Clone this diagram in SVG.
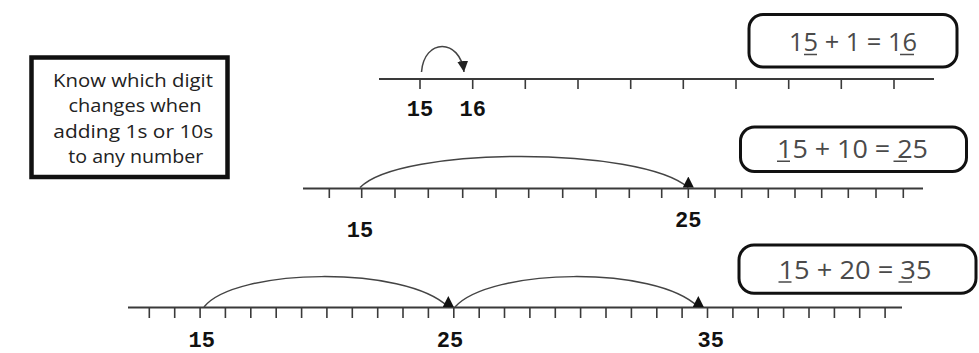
<svg xmlns="http://www.w3.org/2000/svg" width="979" height="353" viewBox="0 0 979 353">
<style>
.axis{stroke:#3a3a3a;stroke-width:2;fill:none}
.tick{stroke:#3a3a3a;stroke-width:1.6;fill:none}
.arc{stroke:#444;stroke-width:1.5;fill:none}
.num{font-family:"Liberation Mono","Courier New",monospace;font-weight:bold;font-size:22px;fill:#111;text-anchor:middle}
.note{font-family:"Open Sans","DejaVu Sans",sans-serif;font-size:18px;fill:#222;text-anchor:middle}
.eqbox{fill:#fff;stroke:#111;stroke-width:3}
.eq{font-family:"Open Sans","Liberation Sans",sans-serif;font-size:26px;fill:#4a4a4a;text-anchor:middle}
.ul{stroke:#4a4a4a;stroke-width:1.6;fill:none}
</style>
<defs>
<marker id="arrowDown" markerUnits="userSpaceOnUse" markerWidth="11" markerHeight="11" refX="10" refY="5" orient="auto" viewBox="0 0 10 10">
<path d="M0,0 L10,5 L0,10 z" fill="#222"/>
</marker>
<marker id="tri" markerUnits="userSpaceOnUse" markerWidth="11" markerHeight="11" refX="5" refY="10" orient="0" viewBox="0 0 10 10">
<path d="M0,10 L5,0 L10,10 z" fill="#111"/>
</marker>
</defs>

<g id="note">
<rect x="31.5" y="57.5" width="196" height="119.5" fill="#fff" stroke="#111" stroke-width="4.5"/>
<text class="note" x="133" y="86.7" textLength="160" lengthAdjust="spacingAndGlyphs">Know which digit</text>
<text class="note" x="135" y="112.2" textLength="133" lengthAdjust="spacingAndGlyphs">changes when</text>
<text class="note" x="133.3" y="137.7" textLength="160" lengthAdjust="spacingAndGlyphs">adding 1s or 10s</text>
<text class="note" x="135.8" y="163.2" textLength="135" lengthAdjust="spacingAndGlyphs">to any number</text>
</g>

<g id="eq1">
<rect class="eqbox" x="749" y="14.5" width="208" height="52.5" rx="14"/>
<text class="eq" x="853" y="51" textLength="128" lengthAdjust="spacingAndGlyphs">15 + 1 = 16</text>
<path class="ul" d="M804,54.5H817 M900,54.5H914"/>
</g>
<g id="eq2">
<rect class="eqbox" x="740.5" y="127" width="226" height="44.5" rx="14"/>
<text class="eq" x="852.5" y="157.8" textLength="151" lengthAdjust="spacingAndGlyphs">15 + 10 = 25</text>
<path class="ul" d="M777,161.3H790 M893.5,161.3H907"/>
</g>
<g id="eq3">
<rect class="eqbox" x="739" y="245" width="237" height="48.3" rx="15"/>
<text class="eq" x="855" y="278.5" textLength="153" lengthAdjust="spacingAndGlyphs">15 + 20 = 35</text>
<path class="ul" d="M778.5,282H791.5 M898.5,282H912"/>
</g>

<g id="line1">
<line class="axis" x1="379" y1="79" x2="934" y2="79"/>
<path class="tick" d="M420,79V89 M472.7,79V89 M525.3,79V89 M578,79V89 M630.7,79V89 M683.3,79V89 M736,79V89 M788.7,79V89 M841.3,79V89 M894,79V89"/>
<text class="num" x="420" y="116">15</text>
<text class="num" x="472.7" y="116">16</text>
</g>

<g id="line2">
<line class="axis" x1="303" y1="188.5" x2="923" y2="188.5"/>
<path class="tick" d="M329.3,188.5V198 M361.7,188.5V198 M395,188.5V198 M428.3,188.5V198 M462.7,188.5V198 M496,188.5V198 M528.7,188.5V198 M562.7,188.5V198 M596,188.5V198 M629.3,188.5V198 M661.7,188.5V198 M688.3,188.5V198 M715,188.5V198 M741.7,188.5V198 M768.3,188.5V198 M795,188.5V198 M821.7,188.5V198 M848.3,188.5V198 M876,188.5V198 M903.3,188.5V198"/>
<text class="num" x="360" y="237">15</text>
<text class="num" x="688.3" y="227">25</text>
</g>

<g id="line3">
<line class="axis" x1="128" y1="307.5" x2="902" y2="307.5"/>
<path class="tick" d="M149.3,307.5V318 M174.7,307.5V318 M200.1,307.5V318 M225.4,307.5V318 M250.8,307.5V318 M276.2,307.5V318 M301.6,307.5V318 M326.9,307.5V318 M352.3,307.5V318 M377.7,307.5V318 M403,307.5V318 M428.4,307.5V318 M453.8,307.5V318 M479.2,307.5V318 M504.5,307.5V318 M529.9,307.5V318 M555.3,307.5V318 M580.6,307.5V318 M606,307.5V318 M631.4,307.5V318 M656.8,307.5V318 M682.1,307.5V318 M707.5,307.5V318 M732.9,307.5V318 M758.2,307.5V318 M783.6,307.5V318 M809,307.5V318 M834.4,307.5V318 M859.7,307.5V318 M885.1,307.5V318"/>
<text class="num" x="201.7" y="346.5">15</text>
<text class="num" x="450" y="346.5">25</text>
<text class="num" x="710.7" y="346.5">35</text>
</g>

<g id="connectors">
<path class="arc" d="M421.5,72 C424,38 460,38 464,72" marker-end="url(#arrowDown)"/>
<path class="arc" d="M360,187.5 C400,146 640,146 688.3,187.5" marker-end="url(#tri)"/>
<path class="arc" d="M204,307 C235,268 405,265 448.3,307" marker-end="url(#tri)"/>
<path class="arc" d="M455,307 C490,268 655,265 698.3,307" marker-end="url(#tri)"/>
</g>
</svg>
